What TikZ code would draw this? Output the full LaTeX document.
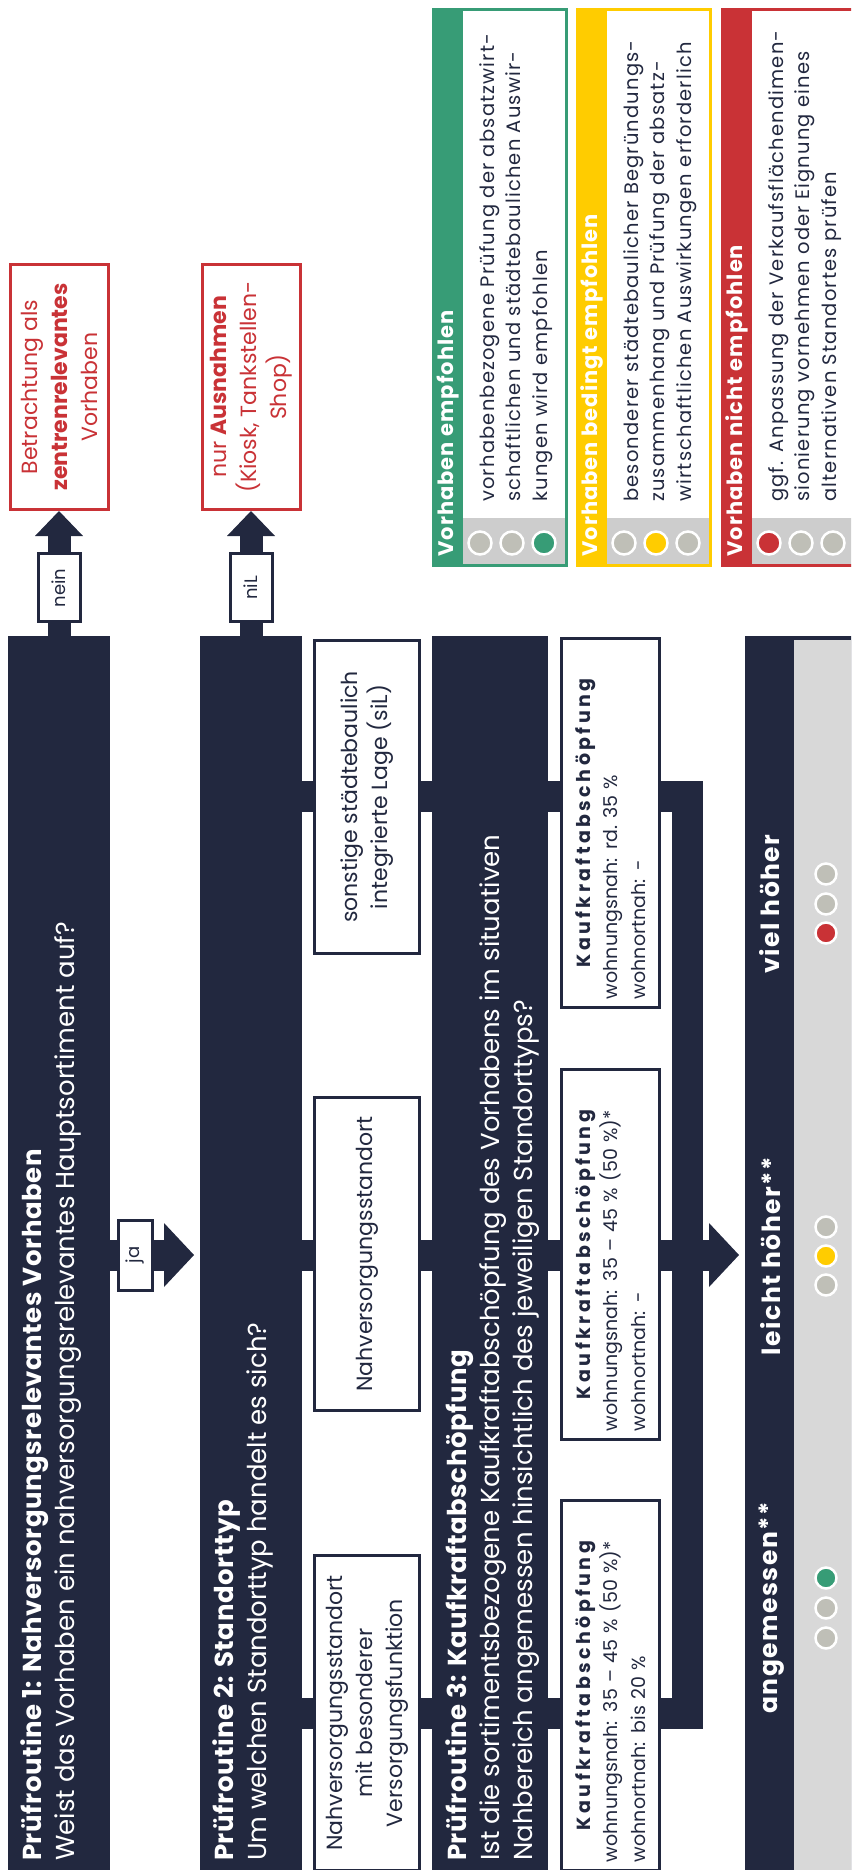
\documentclass[tikz,border=0pt]{standalone}
\usepackage{fontspec}
\setmainfont{Poppins}
\usepackage{tikz}
\usetikzlibrary{arrows.meta, positioning, calc}
\definecolor{navy}{HTML}{22283F}
\definecolor{okgreen}{HTML}{379C76}
\definecolor{midyellow}{HTML}{FFCC00}
\definecolor{alertred}{HTML}{C93236}
\definecolor{lampgrey}{HTML}{BFBFB7}
\definecolor{stripgrey}{HTML}{CDCDCD}
\definecolor{panelgrey}{HTML}{D8D8D8}
\newcommand{\fsTitle}{\fontsize{26}{33}\selectfont}
\newcommand{\fsBox}{\fontsize{22}{30}\selectfont}
\newcommand{\fsK}{\fontsize{19}{27.5}\selectfont}
\newcommand{\fsLeg}{\fontsize{19.5}{26.5}\selectfont\addfontfeature{LetterSpace=6}}
\newcommand{\fsLegHead}{\fontsize{21}{24}\selectfont\addfontfeature{LetterSpace=5}}
\newcommand{\fsRes}{\fontsize{25}{28}\selectfont\addfontfeature{LetterSpace=6}}
\newcommand{\fsLbl}{\fontsize{18}{20}\selectfont}
\newcommand{\tb}[1]{{\bfseries\addfontfeature{LetterSpace=2}#1}}
\newcommand{\kb}[1]{{\bfseries\addfontfeature{LetterSpace=18}#1}}

\begin{document}
\begin{tikzpicture}[x=1pt, y=-1pt,
  band/.style={fill=navy, inner sep=0pt, outer sep=0pt, anchor=north west,
               minimum width=102pt, minimum height=1238pt},
  bandtxt/.style={rotate=90, anchor=north west, inner sep=0pt, align=left,
                  text=white, font=\fsTitle},
  optbox/.style={rotate=90, draw=navy, line width=3pt, fill=white, text=navy,
                 align=center, inner sep=0pt, minimum height=105pt, font=\fsBox},
  kbox/.style={optbox, align=left, minimum height=98pt, font=\fsK, text width=#1},
  outbox/.style={rotate=90, draw=alertred, line width=3pt, fill=white, text=alertred,
                 align=center, inner sep=0pt, minimum width=245pt, minimum height=98pt,
                 font=\fsBox},
  lbl/.style={rotate=90, draw=navy, line width=3pt, fill=white, text=navy,
              inner sep=0pt, font=\fsLbl},
  link/.style={draw=navy, line width=31pt},
  smallarrow/.style={draw=navy, line width=23pt,
                     -{Triangle[width=48pt, length=25pt, line width=0pt]}},
  bigarrow/.style={draw=navy, line width=31pt,
                   -{Triangle[width=64pt, length=30pt, line width=0pt]}},
  lamp/.style={circle, draw=white, line width=2.5pt, inner sep=0pt, minimum size=21pt},
  leglamp/.style={lamp, minimum size=23pt},
  legtxt/.style={rotate=90, anchor=west, inner sep=0pt, align=left, text=navy, font=\fsLeg},
  leghead/.style={rotate=90, anchor=west, inner sep=0pt, text=white, font=\bfseries\fsLegHead},
  restxt/.style={rotate=90, text=white, inner sep=0pt, font=\bfseries\fsRes}
]
  \useasboundingbox (0,0) rectangle (851,1870);
  \clip (0,0) rectangle (851,1870);

  % connector levels
  \coordinate (lvA) at (0,796);
  \coordinate (lvB) at (0,1255);
  \coordinate (lvC) at (0,1713);
  \coordinate (brk) at (687.5,1255);

  % legend
  \foreach \i/\x/\col/\head/\body/\ca/\cb/\cc in {
    1/432/okgreen/{Vorhaben empfohlen}/{vorhabenbezogene Prüfung der absatzwirt-\\schaftlichen und städtebaulichen Auswir-\\kungen wird empfohlen}/lampgrey/lampgrey/okgreen,
    2/576/midyellow/{Vorhaben bedingt empfohlen}/{besonderer städtebaulicher Begründungs-\\zusammenhang und Prüfung der absatz-\\wirtschaftlichen Auswirkungen erforderlich}/lampgrey/midyellow/lampgrey,
    3/721/alertred/{Vorhaben nicht empfohlen}/{ggf. Anpassung der Verkaufsflächendimen-\\sionierung vornehmen oder Eignung eines\\alternativen Standortes prüfen}/alertred/lampgrey/lampgrey} {
    \fill[white] (\x,8) rectangle ++(136,559);
    \fill[\col] (\x,8) rectangle ++(31,559);
    \fill[stripgrey] (\x+31,518) rectangle (\x+136,567);
    \draw[\col, line width=3pt] (\x+1.5,9.5) rectangle (\x+134.5,565.5);
    \node[leghead] (lh\i) at (\x+16,557) {\head};
    \node[legtxt] (lb\i) at (\x+84,502) {\body};
    \node[leglamp, fill=\ca] (la\i) at (\x+48,543) {};
    \node[leglamp, fill=\cb] (lm\i) at (\x+80,543) {};
    \node[leglamp, fill=\cc] (lc\i) at (\x+112,543) {};
  }

  % bands
  \node[band] (pr1) at (8,636) {};
  \node[band] (pr2) at (200,636) {};
  \node[band, minimum width=116pt] (pr3) at (432,636) {};
  \node[band, minimum width=112pt] (res) at (745,636) {};
  \node[fill=panelgrey, anchor=north west, inner sep=0pt, minimum width=63pt,
        minimum height=1236pt] (resbg) at (794,640) {};

  \node[bandtxt] (t1) at (20,1861) {\tb{Prüfroutine 1: Nahversorgungsrelevantes Vorhaben}\\
    Weist das Vorhaben ein nahversorgungsrelevantes Hauptsortiment auf?};
  \node[bandtxt] (t2) at (212,1861) {\tb{Prüfroutine 2: Standorttyp}\\
    Um welchen Standorttyp handelt es sich?};
  \node[bandtxt] (t3) at (445,1861) {\tb{Prüfroutine 3: Kaufkraftabschöpfung}\\
    Ist die sortimentsbezogene Kaufkraftabschöpfung des Vorhabens im situativen\\
    Nahbereich angemessen hinsichtlich des jeweiligen Standorttyps?};

  % outcomes
  \node[outbox] (betr) at (59,387) {Betrachtung als\\\textbf{zentrenrelevantes}\\Vorhaben};
  \node[outbox] (ausn) at (251,387) {nur \textbf{Ausnahmen}\\(Kiosk, Tankstellen-\\Shop)};

  % location types
  \node[optbox, minimum width=313pt] (sil) at (367,797) {sonstige städtebaulich\\integrierte Lage (siL)};
  \node[optbox, minimum width=313pt] (nvs) at (367,1254) {Nahversorgungsstandort};
  \node[optbox, minimum width=315pt] (nvb) at (367,1713) {Nahversorgungsstandort\\mit besonderer\\Versorgungsfunktion};

  % purchasing power
  \node[kbox=352pt, minimum width=369pt] (k1) at (610.5,823) {\makebox[\linewidth]{\kb{Kaufkraftabschöpfung}}\\
    wohnungsnah: rd.~35~\%\\wohnortnah: -};
  \node[kbox=353pt, minimum width=370pt] (k2) at (610.5,1254.5) {\makebox[\linewidth]{\kb{Kaufkraftabschöpfung}}\\
    wohnungsnah: 35 – 45~\% (50~\%)*\\wohnortnah: -};
  \node[kbox=353pt, minimum width=370pt] (k3) at (610.5,1685.5) {\makebox[\linewidth]{\kb{Kaufkraftabschöpfung}}\\
    wohnungsnah: 35 – 45~\% (50~\%)*\\wohnortnah: bis 20~\%};

  % results
  \node[restxt] (rv) at (770,904) {viel höher};
  \node[restxt] (rl) at (771,1256) {leicht höher**};
  \node[restxt] (ra) at (772,1608) {angemessen**};
  \foreach \y/\c/\n in {874/lampgrey/1, 904/lampgrey/2, 933/alertred/3,
                        1227/lampgrey/4, 1256/midyellow/5, 1285/lampgrey/6,
                        1578/okgreen/7, 1608/lampgrey/8, 1638/lampgrey/9}
    \node[lamp, fill=\c] (lamp\n) at (826,\y) {};

  % connectors
  \draw[smallarrow] (pr1.north) -- node[lbl, pos=0.385, minimum width=68pt, minimum height=42pt] (lnein) {nein} (betr.west);
  \draw[smallarrow] (pr2.north) -- node[lbl, pos=0.385, minimum width=68pt, minimum height=42pt] (lnil) {niL} (ausn.west);
  \draw[bigarrow, shorten >=6pt] (pr1.east |- lvB) -- node[lbl, pos=0.283, minimum width=70pt, minimum height=34pt] (lja) {ja} (pr2.west |- lvB);

  \draw[link] (pr2.east |- lvA) -- (sil.north |- lvA);
  \draw[link] (pr2.east |- lvB) -- (nvs.north |- lvB);
  \draw[link] (pr2.east |- lvC) -- (nvb.north |- lvC);
  \draw[link] (sil.south |- lvA) -- (pr3.west |- lvA);
  \draw[link] (nvs.south |- lvB) -- (pr3.west |- lvB);
  \draw[link] (nvb.south |- lvC) -- (pr3.west |- lvC);
  \draw[link] (pr3.east |- lvA) -- (k1.north |- lvA);
  \draw[link] (pr3.east |- lvB) -- (k2.north |- lvB);
  \draw[link] (pr3.east |- lvC) -- (k3.north |- lvC);

  \draw[link, line join=miter] (k1.south |- lvA) -| (brk |- lvC) -- (k3.south |- lvC);
  \draw[link] (k2.south |- lvB) -- (brk);
  \draw[bigarrow, shorten >=6pt] (brk) -- (res.west |- lvB);
\end{tikzpicture}
\end{document}
